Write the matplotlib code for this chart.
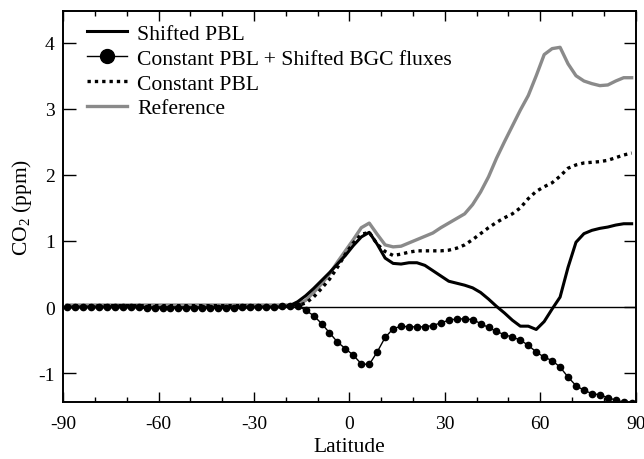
import numpy as np
import matplotlib
matplotlib.use("Agg")
import matplotlib.pyplot as plt
from matplotlib.ticker import MultipleLocator

plt.rcParams['font.family'] = ['Liberation Serif', 'DejaVu Serif']
plt.rcParams['mathtext.fontset'] = 'custom'
plt.rcParams['mathtext.rm'] = 'Liberation Serif'
plt.rcParams['mathtext.it'] = 'Liberation Serif:italic'
plt.rcParams['axes.unicode_minus'] = False

# latitude grid (2.5 degree cell centres)
lat = np.arange(-88.75, 90, 2.5)

south_n = 27  # -88.75 .. -23.75

reference = [0.03] * south_n + [
    0.03, 0.03, 0.04, 0.10, 0.22, 0.35, 0.50, 0.68, 0.85, 1.02, 1.20, 1.27,
    1.10, 0.94, 0.91, 0.92, 0.97, 1.02, 1.07, 1.12, 1.20, 1.27, 1.34, 1.41,
    1.55, 1.74, 1.97, 2.25, 2.50, 2.74, 2.98, 3.20, 3.50, 3.82, 3.91, 3.93,
    3.68, 3.50, 3.42, 3.38, 3.35, 3.36, 3.42, 3.47, 3.47]

constant_pbl = [0.02] * south_n + [
    0.02, 0.02, 0.02, 0.06, 0.15, 0.28, 0.42, 0.60, 0.80, 0.97, 1.10, 1.13,
    0.95, 0.84, 0.78, 0.80, 0.83, 0.85, 0.85, 0.85, 0.85, 0.86, 0.89, 0.94,
    1.02, 1.11, 1.20, 1.28, 1.35, 1.41, 1.50, 1.64, 1.75, 1.82, 1.88, 1.98,
    2.10, 2.15, 2.18, 2.19, 2.20, 2.22, 2.26, 2.30, 2.33]

shifted_pbl = ([0.0] * 10 + [-0.01] * 13 + [0.0] * 4) + [
    0.0, 0.02, 0.08, 0.17, 0.28, 0.40, 0.52, 0.65, 0.78, 0.93, 1.06, 1.13,
    0.95, 0.74, 0.66, 0.65, 0.67, 0.67, 0.63, 0.55, 0.47, 0.39, 0.36, 0.33,
    0.29, 0.22, 0.12, 0.01, -0.09, -0.20, -0.29, -0.29, -0.34, -0.22, -0.03, 0.15,
    0.60, 0.98, 1.11, 1.16, 1.19, 1.21, 1.24, 1.26, 1.26]

shifted_bgc = ([0.0] * 10 + [-0.02] * 12 + [0.0] * 5) + [
    0.01, 0.02, 0.02, -0.05, -0.13, -0.25, -0.39, -0.53, -0.63, -0.73, -0.86, -0.87,
    -0.68, -0.46, -0.33, -0.29, -0.30, -0.30, -0.30, -0.28, -0.24, -0.20, -0.18, -0.18,
    -0.19, -0.25, -0.31, -0.37, -0.42, -0.455, -0.50, -0.58, -0.68, -0.76, -0.81, -0.91,
    -1.06, -1.19, -1.26, -1.31, -1.33, -1.37, -1.41, -1.44, -1.45]

fig = plt.figure(figsize=(6.44, 4.60), dpi=100)
ax = fig.add_axes([0.098, 0.125, 0.889, 0.849])

ax.axhline(0, color='black', lw=1.0, zorder=1)
ax.plot(lat, reference, color='#8a8a8a', lw=2.4, zorder=2, label='Reference')
ax.plot(lat, constant_pbl, color='black', lw=2.4, ls=(0, (1, 1.2)), zorder=3,
        label='Constant PBL')
ax.plot(lat, shifted_pbl, color='black', lw=2.2, zorder=4, label='Shifted PBL')
ax.plot(lat, shifted_bgc, color='black', lw=1.0, marker='o', ms=4.5, zorder=5,
        label='Constant PBL + Shifted BGC fluxes')

handles, labels = ax.get_legend_handles_labels()
order = [2, 3, 1, 0]
leg = ax.legend([handles[i] for i in order], [labels[i] for i in order],
                loc='upper left', bbox_to_anchor=(0.027, 0.99), frameon=False,
                fontsize=15.6, handlelength=1.84, handletextpad=0.46,
                labelspacing=0.22, borderaxespad=0.0)
for h in leg.legend_handles:
    if h.get_marker() == 'o':
        h.set_markersize(10)

ax.set_xlim(-90, 90)
ax.set_ylim(-1.43, 4.48)
ax.xaxis.set_major_locator(MultipleLocator(30))
ax.xaxis.set_minor_locator(MultipleLocator(10))
ax.yaxis.set_major_locator(MultipleLocator(1))
ax.tick_params(axis='both', which='both', direction='in', top=True, right=True,
               labelsize=14, width=1.0)
ax.tick_params(axis='x', which='major', length=7, pad=10)
ax.tick_params(axis='x', which='minor', length=3.5)
ax.tick_params(axis='y', which='major', length=9, pad=6)
for s in ax.spines.values():
    s.set_linewidth(1.4)

ax.set_xlabel('Latitude', fontsize=15.5, labelpad=3)
ax.set_ylabel('CO$_2$ (ppm)', fontsize=15.5, labelpad=3)

fig.savefig('out.png', dpi=100)
